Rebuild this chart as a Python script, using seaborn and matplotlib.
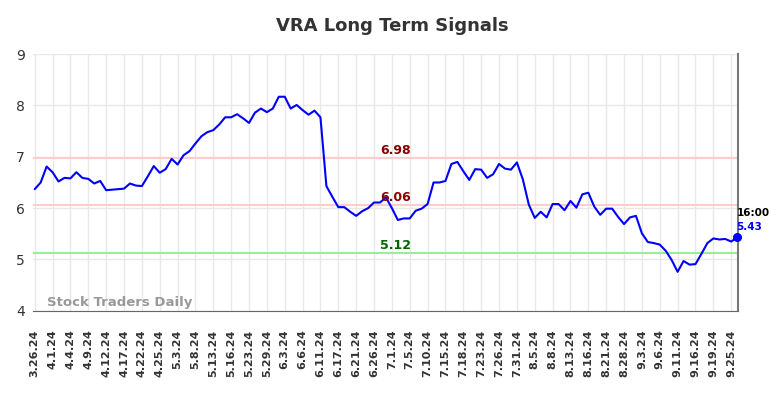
import numpy as np
import pandas as pd
import matplotlib
matplotlib.use("Agg")
import matplotlib.pyplot as plt
import seaborn as sns

# closing prices, one per trading day (3.26.24 .. 9.26.24)
prices = [6.37, 6.50, 6.81, 6.70, 6.52, 6.59, 6.58, 6.70, 6.59, 6.57,
          6.48, 6.53, 6.35, 6.36, 6.37, 6.38, 6.48, 6.44, 6.43, 6.62,
          6.82, 6.69, 6.76, 6.96, 6.85, 7.03, 7.11, 7.26, 7.40, 7.48,
          7.52, 7.63, 7.77, 7.77, 7.83, 7.75, 7.66, 7.86, 7.94, 7.87,
          7.94, 8.17, 8.17, 7.94, 8.01, 7.91, 7.82, 7.90, 7.77, 6.43,
          6.22, 6.02, 6.02, 5.93, 5.85, 5.94, 6.00, 6.11, 6.11, 6.21,
          6.00, 5.77, 5.80, 5.80, 5.95, 5.99, 6.08, 6.50, 6.50, 6.53,
          6.86, 6.90, 6.72, 6.55, 6.76, 6.75, 6.59, 6.66, 6.86, 6.77,
          6.75, 6.89, 6.56, 6.07, 5.81, 5.93, 5.82, 6.08, 6.08, 5.96,
          6.14, 6.01, 6.27, 6.30, 6.03, 5.87, 5.99, 5.99, 5.83, 5.69,
          5.82, 5.85, 5.51, 5.34, 5.32, 5.29, 5.17, 4.99, 4.76, 4.97,
          4.90, 4.91, 5.11, 5.32, 5.41, 5.39, 5.40, 5.35, 5.43]

tick_labels = ["3.26.24", "4.1.24", "4.4.24", "4.9.24", "4.12.24", "4.17.24",
               "4.22.24", "4.25.24", "5.3.24", "5.8.24", "5.13.24", "5.16.24",
               "5.23.24", "5.29.24", "6.3.24", "6.6.24", "6.11.24", "6.17.24",
               "6.21.24", "6.26.24", "7.1.24", "7.5.24", "7.10.24", "7.15.24",
               "7.18.24", "7.23.24", "7.26.24", "7.31.24", "8.5.24", "8.8.24",
               "8.13.24", "8.16.24", "8.21.24", "8.28.24", "9.3.24", "9.6.24",
               "9.11.24", "9.16.24", "9.19.24", "9.25.24"]

signal_levels = [6.98, 6.06, 5.12]
signal_colors = ["#ffcccc", "#ffcccc", "#99ee99"]
label_colors = ["#8b0000", "#8b0000", "#006400"]
last_time = "16:00"

df = pd.DataFrame({"idx": np.arange(len(prices)), "price": prices})

sns.set_style("white")

fig, ax = plt.subplots(figsize=(7.84, 3.98), dpi=100)
fig.subplots_adjust(left=0.042, right=0.941, top=0.864, bottom=0.219)

ax.grid(True, color="#e8e8e8", linewidth=1)

for lvl, c in zip(signal_levels, signal_colors):
    ax.axhline(lvl, color=c, linewidth=1.5, zorder=1)

sns.lineplot(data=df, x="idx", y="price", color="#0000ff", linewidth=1.5, ax=ax, zorder=3)
ax.plot(df["idx"].iloc[-1], df["price"].iloc[-1], "o", color="#0000ff", markersize=5.5,
        zorder=4, clip_on=False)

mid = 60.6
for lvl, c in zip(signal_levels, label_colors):
    ax.text(mid, lvl + 0.15, f"{lvl:.2f}", color=c, fontsize=9, fontweight="bold",
            ha="center", va="center")

# last price annotation at the right edge
ax.text(117.9, df["price"].iloc[-1] + 0.48, last_time, fontsize=7.5, fontweight="bold",
        color="black", ha="left", va="center")
ax.text(117.9, df["price"].iloc[-1] + 0.21, f"{prices[-1]:.2f}", fontsize=7.5,
        fontweight="bold", color="#0000ff", ha="left", va="center")

ax.text(2, 4.17, "Stock Traders Daily", fontsize=9.5, fontweight="bold", color="#999999",
        ha="left", va="center")

ax.set_xlim(-0.3, 118.1)
ax.set_ylim(4, 9)
ax.set_yticks(range(4, 10))
ax.set_xticks(range(0, 3 * len(tick_labels), 3))
ax.set_xticklabels(tick_labels, rotation=90, fontsize=8, fontweight="bold", color="#333333")
ax.tick_params(axis="y", labelsize=10, colors="#333333", pad=6)
ax.tick_params(axis="x", pad=13.5)
ax.tick_params(axis="both", length=0)
ax.set_xlabel("")
ax.set_ylabel("")

for s in ["top", "left"]:
    ax.spines[s].set_visible(False)
ax.spines["bottom"].set_color("#666666")
ax.spines["right"].set_color("#777777")
ax.spines["right"].set_linewidth(1.5)

fig.text(0.5, 0.935, "VRA Long Term Signals", ha="center", va="center",
         fontsize=13, fontweight="bold", color="#333333")

fig.savefig("out.png", dpi=100)
